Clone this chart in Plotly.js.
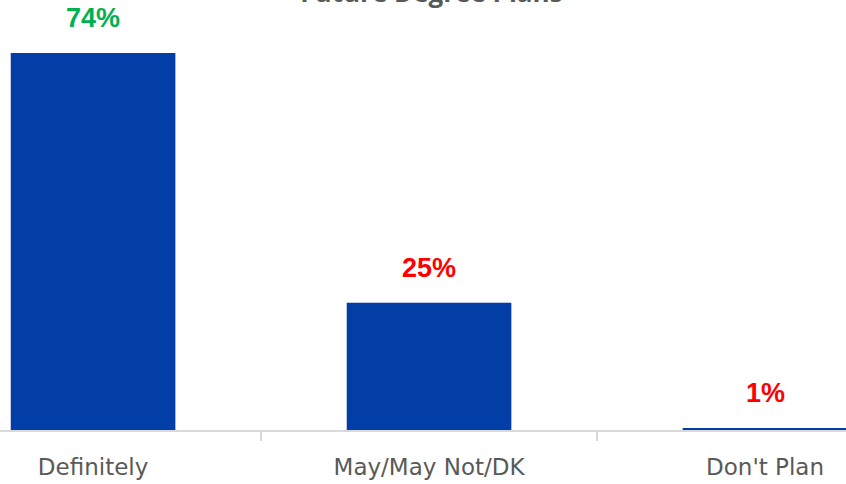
<!DOCTYPE html>
<html>
<head>
<meta charset="utf-8">
<script src="https://cdn.plot.ly/plotly-3.0.1.min.js"></script>
<style>html,body{margin:0;padding:0;background:#fff;}#chart{width:846px;height:484px;}</style>
</head>
<body>
<div id="chart"></div>
<script>
const categories = ["Definitely", "May/May Not/DK", "Don't Plan"];
const values = [74, 25, 0.4];
const valueLabels = ["74%", "25%", "1%"];
const labelColors = ["#00B050", "#FF0000", "#FF0000"];
const chartTitle = "Future Degree Plans";

const trace = {
  type: "bar",
  x: categories,
  y: values,
  width: 0.49,
  marker: {color: "#023EA5", line: {width: 0}},
  hoverinfo: "skip"
};

const annotations = categories.map((c, i) => ({
  x: c, y: values[i], xref: "x", yref: "y",
  text: "<b>" + valueLabels[i] + "</b>",
  showarrow: false, yanchor: "bottom", yshift: 18,
  font: {family: "Liberation Sans, Arial, sans-serif", size: 27, color: labelColors[i]}
}));

const layout = {
  width: 846, height: 484,
  margin: {l: 0, r: 0, t: 0, b: 54, pad: 0},
  paper_bgcolor: "#ffffff", plot_bgcolor: "#ffffff",
  showlegend: false,
  title: {
    text: "<b>" + chartTitle + "</b>",
    x: 0.51, xanchor: "center",
    y: 0.995, yref: "container", yanchor: "bottom",
    font: {family: "Open Sans, sans-serif", size: 26, color: "#595959"}
  },
  xaxis: {
    type: "category",
    range: [-0.277, 2.241],
    showline: true, linecolor: "#D9D9D9", linewidth: 2,
    ticks: "outside", tickson: "boundaries", ticklen: 9, tickcolor: "#D9D9D9", tickwidth: 1.5,
    tickfont: {family: "DejaVu Sans, sans-serif", size: 23, color: "#595959"},
    ticklabelstandoff: 15,
    showgrid: false, zeroline: false, fixedrange: true
  },
  yaxis: {
    range: [0, 84.4],
    visible: false, showgrid: false, zeroline: false, fixedrange: true
  },
  annotations: annotations
};

Plotly.newPlot("chart", [trace], layout, {displayModeBar: false, staticPlot: true});
</script>
</body>
</html>
